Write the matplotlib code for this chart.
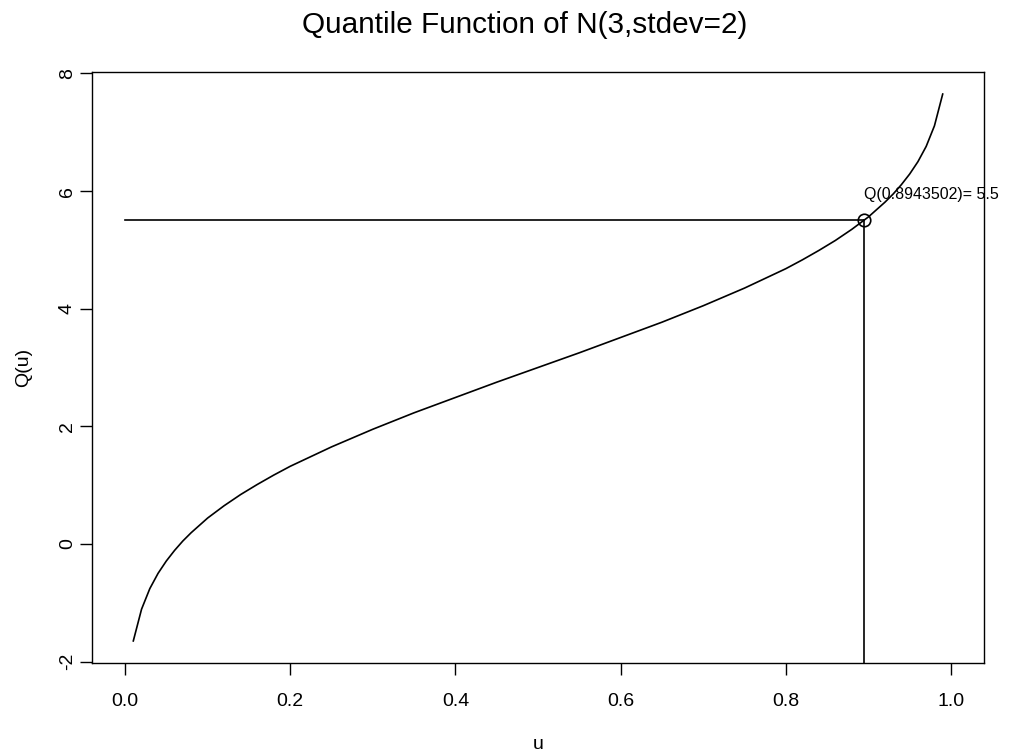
import matplotlib
matplotlib.use("Agg")
import matplotlib.pyplot as plt

# quantile curve of N(3, sd=2)
u = [0.01, 0.02, 0.03, 0.04, 0.05, 0.06, 0.07, 0.08, 0.10, 0.12, 0.14, 0.16,
     0.18, 0.20, 0.25, 0.30, 0.35, 0.40, 0.45, 0.50, 0.55, 0.60, 0.65, 0.70,
     0.75, 0.80, 0.82, 0.84, 0.86, 0.88, 0.90, 0.92, 0.93, 0.94, 0.95, 0.96,
     0.97, 0.98, 0.99]
q = [-1.65, -1.11, -0.76, -0.50, -0.29, -0.11, 0.05, 0.19, 0.44, 0.65, 0.84, 1.01,
     1.17, 1.32, 1.65, 1.95, 2.23, 2.49, 2.75, 3.00, 3.25, 3.51, 3.77, 4.05,
     4.35, 4.68, 4.83, 4.99, 5.16, 5.35, 5.56, 5.81, 5.95, 6.11, 6.29, 6.50,
     6.76, 7.11, 7.65]

u_mark = 0.8943502
q_mark = 5.5
label = "Q(0.8943502)= 5.5"
xticks = [0.0, 0.2, 0.4, 0.6, 0.8, 1.0]
yticks = [-2, 0, 2, 4, 6, 8]

plt.rcParams["font.family"] = ["Liberation Sans", "DejaVu Sans"]

W, H = 1010, 752
fig = plt.figure(figsize=(W / 100, H / 100), dpi=100)
ax = fig.add_axes([92 / W, 1 - 663 / H, (984 - 92) / W, (663 - 72) / H])

ax.plot(u, q, color="black", lw=1.2)
ax.plot([0, u_mark], [q_mark, q_mark], color="black", lw=1.2)
ax.plot([u_mark, u_mark], [q_mark, -2.1], color="black", lw=1.2)
ax.plot([u_mark], [q_mark], marker="o", ms=9, mfc="none", mec="black", mew=1.2)
ax.text(u_mark, 5.94, label, fontsize=11.5, ha="left", va="center")

ax.set_xlim(-0.04, 1.04)
ax.set_ylim(-2.025, 8.025)
ax.set_xticks(xticks)
ax.set_yticks(yticks)
ax.set_xticklabels([f"{t:.1f}" for t in xticks])
ax.set_yticklabels([str(t) for t in yticks], rotation=90, va="center")
ax.tick_params(axis="both", length=8.6, width=1, labelsize=14)
ax.tick_params(axis="x", pad=13)
ax.tick_params(axis="y", pad=3)
for s in ax.spines.values():
    s.set_linewidth(1)

ax.set_xlabel("u", fontsize=14)
ax.set_ylabel("Q(u)", fontsize=14)
ax.xaxis.set_label_coords(0.5, -0.1235)
ax.yaxis.set_label_coords(-0.0673, 0.5)
fig.text(524.5 / W, 1 - 33 / H, "Quantile Function of N(3,stdev=2)", fontsize=21.4,
         ha="center", va="baseline")

fig.savefig("out.png", dpi=100)
